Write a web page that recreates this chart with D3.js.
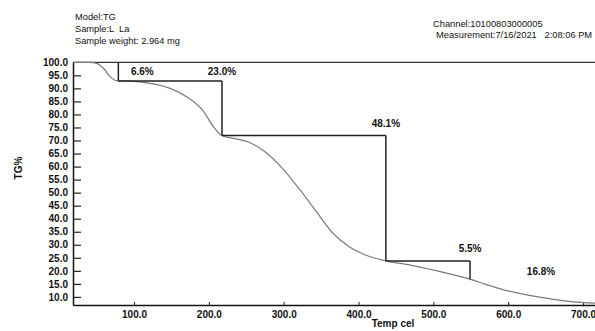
<!DOCTYPE html>
<html>
<head>
<meta charset="utf-8">
<script src="https://cdn.jsdelivr.net/npm/d3@7"></script>
<style>
  html, body { margin: 0; padding: 0; background: #fff; }
  svg { display: block; font-family: "Liberation Sans", Arial, sans-serif; }
</style>
</head>
<body>
<svg id="chart" width="595" height="331"></svg>
<script>
// ---- data ----
const temps = [18, 41, 50, 59, 68, 77, 95, 104, 148, 170, 193, 206, 217, 230, 253, 275, 298, 320, 342, 364, 387, 409, 431, 436, 460, 505, 549, 572, 594, 638, 701, 716];
const tg    = [100, 100, 99.6, 97.7, 94.5, 92.9, 92.8, 92.6, 90.0, 86.8, 81.1, 75.3, 71.9, 71.0, 69.4, 65.7, 59.4, 51.7, 43.4, 35.0, 29.3, 26.1, 24.2, 23.8, 22.7, 20.0, 16.8, 14.6, 12.7, 10.1, 7.8, 7.6];

const stepTemps  = [79, 217.5, 436.5, 549];
const stepLevels = [100, 92.8, 71.9, 23.8, 16.8];
const stepLabels = ["6.6%", "23.0%", "48.1%", "5.5%"];
const residueLabel = "16.8%";

const yTicks = [100, 95, 90, 85, 80, 75, 70, 65, 60, 55, 50, 45, 40, 35, 30, 25, 20, 15, 10];
const xTicks = [100, 200, 300, 400, 500, 600, 700];

const headerLeft  = ["Model:TG", "Sample:L  La", "Sample weight: 2.964 mg"];
const headerRight = ["Channel:10100803000005", "Measurement:7/16/2021   2:08:06 PM"];
const xTitle = "Temp cel";
const yTitle = "TG%";

// ---- scales ----
const svg = d3.select("#chart");
const x = d3.scaleLinear().domain([18.4, 716]).range([73, 595]);
const y = d3.scaleLinear().domain([6.9, 100]).range([305, 62.3]);

// ---- header ----
svg.append("g").selectAll("text").data(headerLeft).join("text")
  .attr("x", 75).attr("y", (d, i) => 20 + i * 12)
  .attr("font-size", 9.3).attr("fill", "#111")
  .style("white-space", "pre").text(d => d);
svg.append("g").selectAll("text").data(headerRight).join("text")
  .attr("x", (d, i) => i === 0 ? 433 : 436).attr("y", (d, i) => 26.5 + i * 11.5)
  .attr("font-size", 9.3).attr("fill", "#111")
  .style("white-space", "pre").text(d => d);

// ---- frame top line at 100% ----
svg.append("line")
  .attr("x1", x(18.4)).attr("x2", 595)
  .attr("y1", y(100)).attr("y2", y(100))
  .attr("stroke", "#333").attr("stroke-width", 1.2);

// ---- axes ----
const yAxis = d3.axisLeft(y).tickValues(yTicks).tickFormat(d3.format(".1f")).tickSize(0).tickPadding(5);
const gy = svg.append("g").attr("transform", `translate(${x.range()[0]},0)`).call(yAxis);
gy.select(".domain").attr("stroke", "#111").attr("stroke-width", 1.5);
gy.selectAll(".tick text").attr("font-size", 10).attr("font-weight", "bold").attr("fill", "#111")
  .attr("font-family", "'Liberation Sans', Arial, sans-serif");
gy.selectAll(".tick").filter(d => d !== 100).append("line")
  .attr("x1", 0).attr("x2", 8).attr("stroke", "#222").attr("stroke-width", 1.2);

const xAxis = d3.axisBottom(x).tickValues(xTicks).tickFormat(d3.format(".1f")).tickSize(0).tickPadding(6);
const gx = svg.append("g").attr("transform", `translate(0,${y.range()[0]})`).call(xAxis);
gx.select(".domain").attr("stroke", "#111").attr("stroke-width", 1.5);
gx.selectAll(".tick text").attr("font-size", 10).attr("font-weight", "bold").attr("fill", "#111")
  .attr("font-family", "'Liberation Sans', Arial, sans-serif");
gx.selectAll(".tick").append("line").attr("y1", 0).attr("y2", -3).attr("stroke", "#222").attr("stroke-width", 1);

// axis titles
svg.append("text").attr("x", 393).attr("y", 327).attr("text-anchor", "middle")
  .attr("font-size", 10).attr("font-weight", "bold").attr("fill", "#111").text(xTitle);
svg.append("text").attr("transform", "translate(22,168) rotate(-90)").attr("text-anchor", "middle")
  .attr("font-size", 10).attr("font-weight", "bold").attr("fill", "#111").text(yTitle);

// ---- TG curve ----
const line = d3.line().x(d => x(d[0])).y(d => y(d[1])).curve(d3.curveMonotoneX);
svg.append("path").datum(temps.map((t, i) => [t, tg[i]]))
  .attr("d", line).attr("fill", "none").attr("stroke", "#7a7a7a").attr("stroke-width", 1.2);

// ---- step lines ----
const steps = svg.append("g").attr("stroke", "#222").attr("stroke-width", 1.5);
stepTemps.forEach((t, i) => {
  steps.append("line")
    .attr("x1", x(t)).attr("x2", x(t))
    .attr("y1", y(stepLevels[i])).attr("y2", y(stepLevels[i + 1]));
  if (i < stepTemps.length - 1) {
    steps.append("line")
      .attr("x1", x(t)).attr("x2", x(stepTemps[i + 1]))
      .attr("y1", y(stepLevels[i + 1])).attr("y2", y(stepLevels[i + 1]));
  }
});

// ---- step labels ----
const lab = svg.append("g").attr("font-size", 10).attr("font-weight", "bold").attr("fill", "#111").attr("text-anchor", "middle");
stepLabels.forEach((s, i) => {
  let lx, ly;
  if (i === 0) { lx = x(stepTemps[0]) + 24; ly = y(stepLevels[1]) - 9.3; }
  else { lx = x(stepTemps[i]); ly = y(stepLevels[i]) - (i === 1 ? 9.3 : 12.5); }
  lab.append("text").attr("x", lx).attr("y", ly + 3.6).text(s);
});
lab.append("text")
  .attr("x", x(stepTemps[3]) + 71).attr("y", y(stepLevels[4]) - 7.6 + 3.6)
  .text(residueLabel);
</script>
</body>
</html>
